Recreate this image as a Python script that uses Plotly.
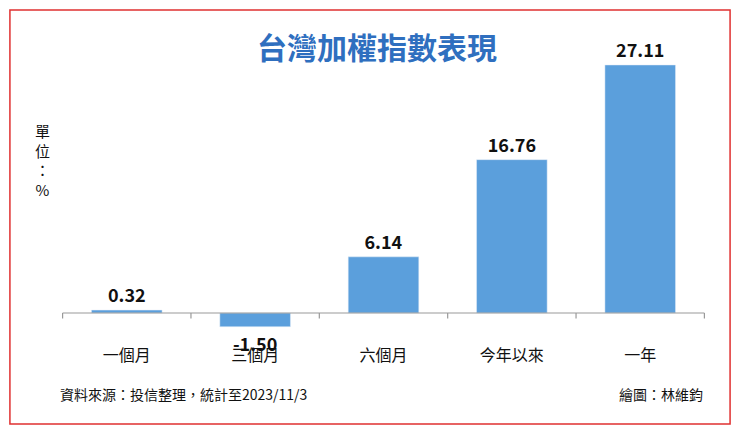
import plotly.graph_objects as go

categories = ["一個月", "三個月", "六個月", "今年以來", "一年"]
values = [0.32, -1.50, 6.14, 16.76, 27.11]
labels = ["<b>0.32</b>", "<b>-1.50</b>", "<b>6.14</b>", "<b>16.76</b>", "<b>27.11</b>"]

F = "Noto Sans CJK TC"
fig = go.Figure(go.Bar(
    x=categories, y=values, text=labels, textposition="outside",
    textfont=dict(family=F, size=18, color="#111"), marker_color="#5b9fdc",
    width=0.55, cliponaxis=False))

shapes = [dict(type="line", xref="x", yref="y", x0=-0.5, x1=4.5, y0=0, y1=0,
               line=dict(color="#999", width=1.2))]
for i in range(6):
    shapes.append(dict(type="line", xref="x", yref="y", x0=i-0.5, x1=i-0.5, y0=0, y1=-0.6,
                       line=dict(color="#999", width=1.2)))
shapes.append(dict(type="rect", xref="paper", yref="paper", x0=-0.081, x1=1.039, y0=-0.28, y1=1.1,
                   line=dict(color="#e03030", width=1.5)))

fig.update_layout(
    width=724, height=418, margin=dict(l=54, r=27, t=32, b=86),
    paper_bgcolor="white", plot_bgcolor="white", showlegend=False,
    font=dict(family=F),
    xaxis=dict(showline=False, ticks="", ticklabelstandoff=4, tickfont=dict(size=16, color="#111")),
    yaxis=dict(range=[-2.95, 29.84], visible=False),
    shapes=shapes,
    annotations=[
        dict(text="<b>台灣加權指數表現</b>", xref="paper", yref="paper", x=0.49, y=1.06,
             showarrow=False, font=dict(size=30, color="#2f6fbf", family=F)),
        dict(text="單<br>位<br>：<br>%", xref="paper", yref="paper", x=-0.045, y=0.6,
             showarrow=False, font=dict(size=15, color="#111")),
        dict(text="資料來源：投信整理，統計至2023/11/3", xref="paper", yref="paper", x=-0.006, y=-0.22,
             xanchor="left", showarrow=False, font=dict(size=14, color="#111")),
        dict(text="繪圖：林維鈞", xref="paper", yref="paper", x=1.0, y=-0.22,
             xanchor="right", showarrow=False, font=dict(size=14, color="#111")),
    ],
)
fig.write_html("out.html")
